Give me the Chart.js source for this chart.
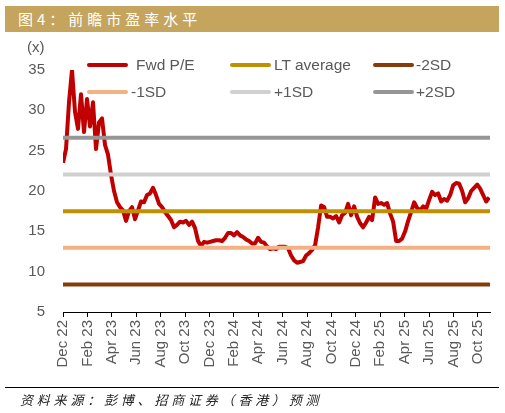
<!DOCTYPE html>
<html>
<head>
<meta charset="utf-8">
<script src="https://cdn.jsdelivr.net/npm/chart.js@4.4.0/dist/chart.umd.min.js"></script>
<style>
    body { margin: 0; background: #fff; }
    #wrap { position: relative; width: 505px; height: 413px; overflow: hidden; font-family: "Liberation Sans", Arial, sans-serif; }
    #chartBox { position: absolute; left: 0; top: 0; width: 505px; height: 413px; }
    #title { position: absolute; left: 5px; top: 6px; width: 494px; height: 26px; background: #C5A55E; color: #fff;
             font-family: "Noto Sans CJK SC", sans-serif; font-size: 15px; line-height: 26px; padding-left: 13px;
             box-sizing: border-box; letter-spacing: 4px; }
    #unit { position: absolute; left: 27px; top: 38px; font-size: 15px; color: #595959; }
    .lg-line { position: absolute; width: 41px; height: 4px; border-radius: 2px; }
    .lg-text { position: absolute; font-size: 15.5px; color: #595959; line-height: 18px; white-space: nowrap; }
    #rule { position: absolute; left: 5px; top: 387px; width: 494px; height: 1px; background: #000; }
    #source { position: absolute; left: 20px; top: 390px; font-family: "Noto Sans CJK SC", sans-serif; font-style: italic;
              font-size: 13px; letter-spacing: 3.8px; color: #222; }
</style>
</head>
<body>
<div id="wrap">
    <div id="chartBox"><canvas id="peChart"></canvas></div>
    <div id="title">图4：前瞻市盈率水平</div>
    <div id="unit">(x)</div>
    <div id="legend"></div>
    <div id="rule"></div>
    <div id="source">资料来源：彭博、招商证券（香港）预测</div>
</div>
<script>
// x-axis tick labels, one every two months starting Dec 22
const tickLabels = ['Dec 22', 'Feb 23', 'Apr 23', 'Jun 23', 'Aug 23', 'Oct 23', 'Dec 23', 'Feb 24', 'Apr 24',
    'Jun 24', 'Aug 24', 'Oct 24', 'Dec 24', 'Feb 25', 'Apr 25', 'Jun 25', 'Aug 25', 'Oct 25'];

// forward P/E, one reading roughly every 7.5 days
const fwdPE = [
    23.5, 25.2, 31.0, 35.0, 29.8, 27.7, 32.0, 27.3, 31.4, 28.0, 31.0, 25.2, 28.5, 29.0, 25.7, 24.5,
    22.0, 20.0, 18.6, 18.0, 17.6, 16.3, 17.5, 18.0, 16.5, 17.6, 18.7, 18.6, 19.5, 19.7, 20.4, 19.5,
    18.4, 18.0, 17.4, 16.9, 16.4, 15.5, 15.8, 16.2, 16.1, 16.3, 15.8, 16.2, 15.4, 13.8, 13.2, 13.7,
    13.6, 13.7, 13.8, 13.9, 13.9, 13.8, 14.2, 14.8, 14.8, 14.5, 14.9, 14.5, 14.3, 14.0, 13.8, 13.5,
    13.5, 14.2, 13.7, 13.6, 13.1, 12.8, 12.9, 12.8, 13.1, 13.1, 13.1, 12.9, 12.0, 11.4, 11.1, 11.2,
    11.3, 12.0, 12.3, 12.7, 13.3, 15.5, 18.2, 18.0, 16.8, 16.8, 16.6, 16.9, 16.1, 17.0, 17.3, 18.4,
    17.0, 18.1, 16.8, 16.0, 15.5, 16.1, 16.8, 16.4, 19.2, 18.4, 18.5, 18.3, 18.5, 17.2, 16.2, 13.8,
    13.8, 14.1, 15.0, 16.3, 17.4, 18.6, 17.9, 17.6, 18.1, 17.8, 18.9, 19.9, 19.5, 19.7, 18.7, 19.0,
    18.8, 19.5, 20.7, 21.0, 20.9, 20.0, 18.6, 19.1, 20.0, 20.4, 20.8, 20.3, 19.5, 18.7, 19.2
];

// long-term average and standard deviation bands
const bandNames = ['LT average', '-2SD', '-1SD', '+1SD', '+2SD'];
const bandValues = [17.5, 8.4, 12.95, 22.05, 26.6];

const STEP = 0.246; // months between readings
const peColor = '#C00000';
const bandColors = ['#BF9000', '#843C0C', '#F4B183', '#D0D0D0', '#969696'];

document.addEventListener('DOMContentLoaded', function() {
    const pePoints = fwdPE.map(function(v, i) { return { x: i * STEP, y: v }; });
    const lastX = (fwdPE.length - 1) * STEP;

    const datasets = [{
        label: 'Fwd P/E',
        data: pePoints,
        borderColor: peColor,
        borderWidth: 4,
        pointRadius: 0,
        tension: 0,
        borderJoinStyle: 'round',
        order: 10
    }];
    bandNames.forEach(function(name, i) {
        datasets.push({
            label: name,
            data: [{ x: 0, y: bandValues[i] }, { x: lastX, y: bandValues[i] }],
            borderColor: bandColors[i],
            borderWidth: 4,
            borderCapStyle: 'round',
            pointRadius: 0,
            order: 0
        });
    });

    // legend laid out like the original: two rows of three
    const legendSpots = [
        { name: 'Fwd P/E', color: peColor, lx: 87, tx: 136, y: 65 },
        { name: 'LT average', color: bandColors[0], lx: 230, tx: 274, y: 65 },
        { name: '-2SD', color: bandColors[1], lx: 373, tx: 416, y: 65 },
        { name: '-1SD', color: bandColors[2], lx: 87, tx: 131, y: 92 },
        { name: '+1SD', color: bandColors[3], lx: 230, tx: 274, y: 92 },
        { name: '+2SD', color: bandColors[4], lx: 373, tx: 416, y: 92 }
    ];
    const legend = document.getElementById('legend');
    legendSpots.forEach(function(s) {
        const line = document.createElement('div');
        line.className = 'lg-line';
        line.style.left = s.lx + 'px';
        line.style.top = (s.y - 2) + 'px';
        line.style.background = s.color;
        legend.appendChild(line);
        const text = document.createElement('div');
        text.className = 'lg-text';
        text.style.left = s.tx + 'px';
        text.style.top = (s.y - 9) + 'px';
        text.textContent = s.name;
        legend.appendChild(text);
    });

    new Chart(document.getElementById('peChart').getContext('2d'), {
        type: 'line',
        data: { datasets: datasets },
        options: {
            responsive: true,
            maintainAspectRatio: false,
            animation: false,
            layout: { padding: { top: 70, right: 15, left: 0, bottom: 0 } },
            plugins: { legend: { display: false }, tooltip: { enabled: false } },
            scales: {
                x: {
                    type: 'linear',
                    min: 0,
                    max: 35,
                    afterBuildTicks: function(scale) {
                        scale.ticks = tickLabels.map(function(_, i) { return { value: i * 2 }; });
                    },
                    afterFit: function(scale) { scale.height = 101; },
                    ticks: {
                        callback: function(v) { return tickLabels[Math.round(v / 2)]; },
                        minRotation: 90,
                        maxRotation: 90,
                        padding: 3,
                        color: '#595959',
                        font: { size: 15, family: '"Liberation Sans", Arial, sans-serif' }
                    },
                    grid: { drawOnChartArea: false, drawTicks: true, tickLength: 5, color: '#000' },
                    border: { color: '#000', width: 1 }
                },
                y: {
                    min: 5,
                    max: 35,
                    afterFit: function(scale) { scale.width = 63; },
                    ticks: {
                        stepSize: 5,
                        padding: 10,
                        color: '#595959',
                        font: { size: 15, family: '"Liberation Sans", Arial, sans-serif' }
                    },
                    grid: { display: false },
                    border: { display: false }
                }
            }
        }
    });
});
</script>
</body>
</html>
